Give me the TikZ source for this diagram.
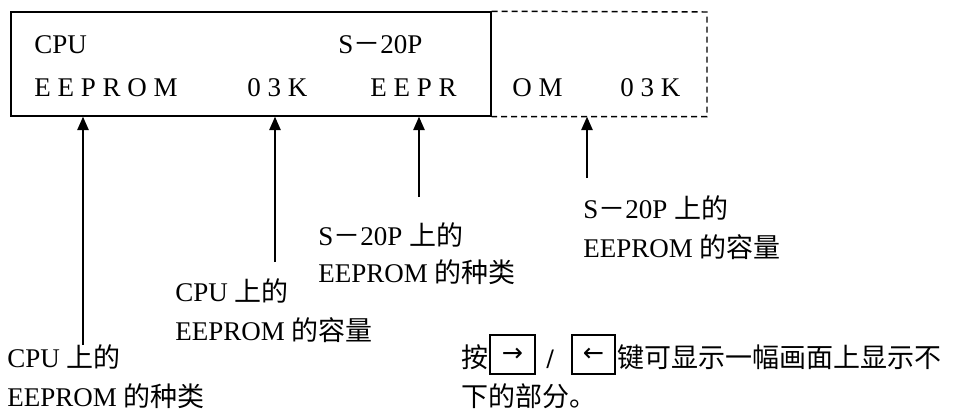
\documentclass[tikz,border=0pt]{standalone}
\usepackage{fontspec}
\setmainfont{Liberation Serif}
\newfontfamily\cjk{Noto Sans CJK SC}
\newfontfamily\keyfont{DejaVu Sans}
\usetikzlibrary{arrows.meta,positioning}
\newcommand{\zh}[1]{{\cjk #1}}
\tikzset{
  scrbox/.style={rectangle, draw=black, line width=1.1pt, inner sep=0pt},
  offscr/.style={draw=black, line width=1.1pt, dash pattern=on 4.5pt off 3pt},
  lcdtxt/.style={anchor=base west, inner sep=0pt},
  lbl/.style={anchor=base west, inner sep=0pt},
  keybox/.style={rectangle, draw=black, line width=1.1pt, inner sep=0pt, font=\keyfont\fontsize{19}{20}\selectfont},
  flow/.style={-{Triangle[length=10pt,width=8.5pt]}, draw=black, line width=1.1pt}
}
\begin{document}
\begin{tikzpicture}[x=0.75pt, y=-0.75pt, every node/.style={font=\fontsize{20.25}{29}\selectfont}]
 \useasboundingbox (0,0) rectangle (954,410);
 % screen and the part that does not fit
 \node[scrbox, minimum width=360pt, minimum height=78pt] (scr) at (251,64) {};
 \coordinate (offe) at (707,12);
 \draw[offscr] (scr.north east) -- (offe) -- (offe |- scr.south) -- (scr.south east);

 \node[lcdtxt] (cpu) at (34,54) {CPU};
 \node[lcdtxt] (s20) at (338,54) {S\zh{－}20P};
 \node[lcdtxt] (ee1) at (34,97) {E E P R O M};
 \node[lcdtxt] (k1) at (247,97) {0 3 K};
 \node[lcdtxt] (ee2a) at (370,97) {E E P R};
 \node[lcdtxt] (ee2b) at (512,97) {O M};
 \node[lcdtxt] (k2) at (620,97) {0 3 K};

 % pointers
 \coordinate (t1) at (83,345);
 \coordinate (t2) at (275,262);
 \coordinate (t3) at (419,197);
 \coordinate (t4) at (587,178);
 \draw[flow] (t1) -- (t1 |- scr.south);
 \draw[flow] (t2) -- (t2 |- scr.south);
 \draw[flow] (t3) -- (t3 |- scr.south);
 \draw[flow] (t4) -- (t4 |- scr.south);

 \node[lbl] (c1a) at (7,367) {CPU \zh{上的}};
 \node[lbl] (c1b) at (7,406) {EEPROM \zh{的种类}};
 \node[lbl] (c2a) at (175,301) {CPU \zh{上的}};
 \node[lbl] (c2b) at (175,340) {EEPROM \zh{的容量}};
 \node[lbl] (s1a) at (318,245) {S\zh{－}20P \zh{上的}};
 \node[lbl] (s1b) at (318,282) {EEPROM \zh{的种类}};
 \node[lbl] (s2a) at (583,219) {S\zh{－}20P \zh{上的}};
 \node[lbl] (s2b) at (583,257) {EEPROM \zh{的容量}};

 % note on the keys
 \node[lbl] (an) at (461,367) {\zh{按}};
 \node[keybox, minimum width=33.75pt, minimum height=29.25pt] (kr) at (512.5,354.5) {→};
 \node[lbl, font=\keyfont\fontsize{17}{18}\selectfont] (sl) at (546,366) {/};
 \node[keybox, minimum width=32.25pt, minimum height=29.25pt] (kl) at (593.5,354.5) {←};
 \node[lbl] (nt1) at (617,367) {\zh{键可显示一幅画面上显示不}};
 \node[lbl] (nt2) at (461,406) {\zh{下的部分。}};
\end{tikzpicture}
\end{document}
